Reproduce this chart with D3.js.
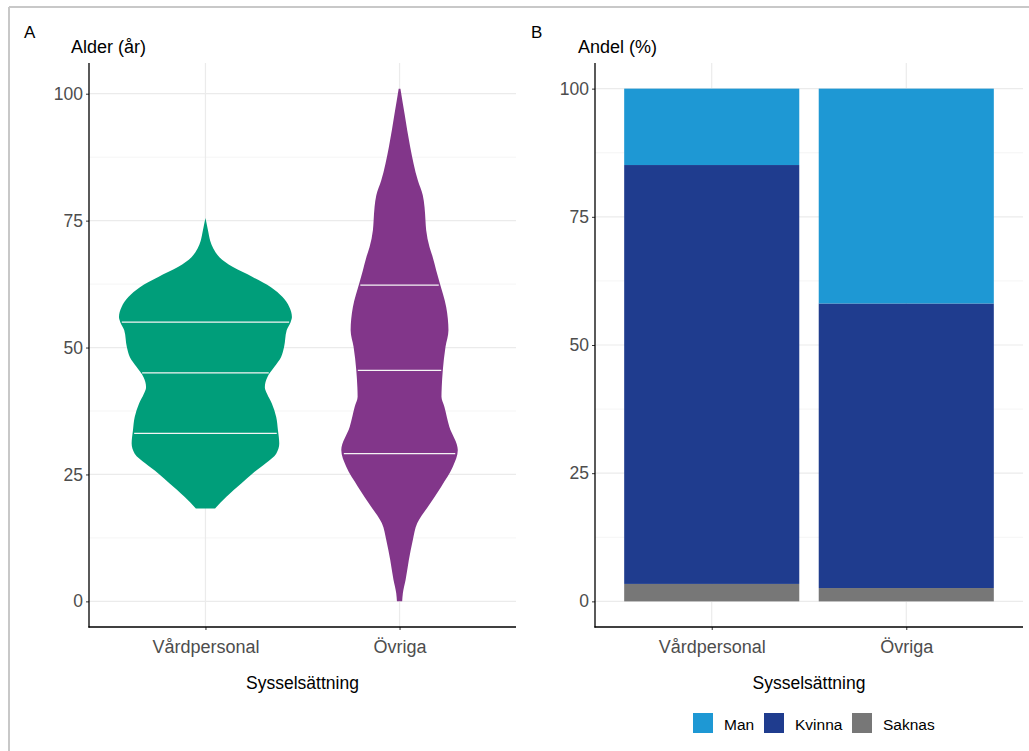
<!DOCTYPE html>
<html>
<head>
<meta charset="utf-8">
<script src="https://cdn.jsdelivr.net/npm/d3@7"></script>
<style>
  html, body { margin: 0; padding: 0; background: #fff; }
  svg { display: block; font-family: "Liberation Sans", Arial, sans-serif; }
</style>
</head>
<body>
<svg id="chart" width="1029" height="751"></svg>
<script>
// Employment groups shared by both panels
const categories = ["Vårdpersonal", "Övriga"];

// Panel A: age distribution (violin outline as relative density per age)
const ageGridVard = [18.3, 20.6, 23.2, 25.2, 27.2, 29.1, 31.1, 33.7, 36.3, 39.0, 40.9, 42.2, 44.2, 46.2, 48.1, 50.1, 53.4, 55.0, 56.0, 58.0, 60.0, 61.9, 63.9, 65.9, 67.8, 69.5, 71.0, 73.0, 75.5];
const densityVard = [0.11, 0.24, 0.41, 0.54, 0.69, 0.81, 0.845, 0.83, 0.81, 0.76, 0.705, 0.68, 0.71, 0.79, 0.865, 0.90, 0.93, 0.975, 0.99, 0.96, 0.88, 0.75, 0.54, 0.31, 0.16, 0.09, 0.055, 0.03, 0.0];
const ageGridOvriga = [0.0, 1.6, 4.2, 8.1, 12.1, 15.4, 18.6, 22.6, 26.5, 29.8, 34.4, 38.3, 40.3, 42.2, 45.5, 50.1, 53.4, 58.0, 62.9, 65.2, 67.8, 69.8, 73.1, 75.0, 77.7, 80.0, 82.9, 89.5, 96.1, 101.0];
const densityOvriga = [0.03, 0.038, 0.069, 0.106, 0.152, 0.202, 0.323, 0.477, 0.61, 0.667, 0.57, 0.514, 0.48, 0.483, 0.495, 0.526, 0.56, 0.534, 0.457, 0.42, 0.38, 0.343, 0.305, 0.297, 0.286, 0.266, 0.21, 0.122, 0.057, 0.01];
const quantilesVard = [33.1, 45.0, 55.0];
const quantilesOvriga = [29.1, 45.5, 62.3];
const ageTicks = [0, 25, 50, 75, 100];

// Panel B: sex composition (%)
const sexLevels = ["Man", "Kvinna", "Saknas"];
const manPct = [14.9, 41.9];
const kvinnaPct = [81.7, 55.5];
const saknasPct = [3.4, 2.6];
const pctTicks = [0, 25, 50, 75, 100];

const violinColors = ["#009E7A", "#82368A"];
const sexColors = { Man: "#1E98D4", Kvinna: "#1F3C8E", Saknas: "#777777" };

const svg = d3.select("#chart");
const textGrey = "#4d4d4d";
const gridMajor = "#ebebeb";
const gridMinor = "#f3f3f3";

// Figure frame
svg.append("line").attr("x1", 9).attr("x2", 1029).attr("y1", 7).attr("y2", 7)
  .attr("stroke", "#c8c8c8").attr("stroke-width", 2);
svg.append("line").attr("x1", 9).attr("x2", 9).attr("y1", 7).attr("y2", 751)
  .attr("stroke", "#c8c8c8").attr("stroke-width", 2);

function drawFrame(g, x, y, ticks, minorTicks, x0, x1, y0, y1, tag, yTitle, tagX, titleX) {
  // grid
  g.selectAll(".gmin").data(minorTicks).join("line")
    .attr("x1", x0).attr("x2", x1).attr("y1", d => y(d)).attr("y2", d => y(d))
    .attr("stroke", gridMinor).attr("stroke-width", 0.8);
  g.selectAll(".gmaj").data(ticks).join("line")
    .attr("x1", x0).attr("x2", x1).attr("y1", d => y(d)).attr("y2", d => y(d))
    .attr("stroke", gridMajor).attr("stroke-width", 1.2);
  g.selectAll(".gx").data(categories).join("line")
    .attr("x1", d => x(d)).attr("x2", d => x(d)).attr("y1", y0).attr("y2", y1)
    .attr("stroke", gridMajor).attr("stroke-width", 1.2);

  svg.append("text").attr("x", tagX).attr("y", 37.5).attr("font-size", 17)
    .attr("fill", "#000").text(tag);
  svg.append("text").attr("x", titleX).attr("y", 53).attr("font-size", 18)
    .attr("fill", "#000").text(yTitle);
}

function drawAxes(g, x, y, ticks, x0, x1, y0, y1) {
  const yAxis = d3.axisLeft(y).tickValues(ticks).tickSize(3).tickPadding(3);
  const ya = g.append("g").attr("transform", `translate(${x0},0)`).call(yAxis);
  ya.select(".domain").remove();
  ya.selectAll(".tick line").attr("stroke", "#333").attr("stroke-width", 1);
  ya.selectAll(".tick text").attr("fill", textGrey).attr("font-size", 17.5)
    .attr("font-family", "Liberation Sans, Arial, sans-serif");

  const xAxis = d3.axisBottom(x).tickSize(3).tickPadding(10);
  const xa = g.append("g").attr("transform", `translate(0,${y1})`).call(xAxis);
  xa.select(".domain").remove();
  xa.selectAll(".tick line").attr("stroke", "#333").attr("stroke-width", 1);
  xa.selectAll(".tick text").attr("fill", textGrey).attr("font-size", 18)
    .attr("font-family", "Liberation Sans, Arial, sans-serif");

  g.append("line").attr("x1", x0).attr("x2", x0).attr("y1", y0).attr("y2", y1 + 0.6)
    .attr("stroke", "#000").attr("stroke-width", 1.3);
  g.append("line").attr("x1", x0 - 0.6).attr("x2", x1).attr("y1", y1).attr("y2", y1)
    .attr("stroke", "#000").attr("stroke-width", 1.3);

  g.append("text").attr("x", (x0 + x1) / 2).attr("y", 688.5).attr("text-anchor", "middle")
    .attr("font-size", 17.5).attr("fill", "#000").text("Sysselsättning");
}

// ---------- Panel A: violins ----------
{
  const x0 = 89, x1 = 516, y0 = 63, y1 = 627;
  const g = svg.append("g");
  const x = d3.scalePoint().domain(categories).range([x0, x1]).padding(0.6);
  const y = d3.scaleLinear().domain([-5.05, 106.05]).range([y1, y0]);
  drawFrame(g, x, y, ageTicks, [12.5, 37.5, 62.5, 87.5], x0, x1, y0, y1, "A", "Alder (år)", 24, 71);

  const halfMax = 0.45 * x.step();
  const groups = [
    { cat: categories[0], ages: ageGridVard, dens: densityVard, q: quantilesVard, color: violinColors[0] },
    { cat: categories[1], ages: ageGridOvriga, dens: densityOvriga, q: quantilesOvriga, color: violinColors[1] }
  ];
  groups.forEach(grp => {
    const cx = x(grp.cat);
    const w = d3.scaleLinear().domain([0, 1]).range([0, halfMax]);
    const pts = grp.ages.map((a, i) => ({ a, d: grp.dens[i] }));
    const area = d3.area()
      .y(p => y(p.a))
      .x0(p => cx - w(p.d))
      .x1(p => cx + w(p.d))
      .curve(d3.curveMonotoneY);
    g.append("path").datum(pts).attr("d", area).attr("fill", grp.color);

    const interp = d3.scaleLinear().domain(grp.ages).range(grp.dens);
    g.selectAll(null).data(grp.q).join("line")
      .attr("x1", q => cx - w(interp(q)) + 1.5)
      .attr("x2", q => cx + w(interp(q)) - 1.5)
      .attr("y1", q => y(q)).attr("y2", q => y(q))
      .attr("stroke", "#f4f4f4").attr("stroke-width", 1.4);
  });
  drawAxes(g, x, y, ageTicks, x0, x1, y0, y1);
}

// ---------- Panel B: stacked bars ----------
{
  const x0 = 595, x1 = 1023, y0 = 63, y1 = 627;
  const g = svg.append("g");
  const x = d3.scalePoint().domain(categories).range([x0, x1]).padding(0.6);
  const y = d3.scaleLinear().domain([-5, 105]).range([y1, y0]);
  drawFrame(g, x, y, pctTicks, [12.5, 37.5, 62.5, 87.5], x0, x1, y0, y1, "B", "Andel (%)", 531, 578);

  const rows = categories.map((c, i) => ({ cat: c, Man: manPct[i], Kvinna: kvinnaPct[i], Saknas: saknasPct[i] }));
  const stack = d3.stack().keys(["Saknas", "Kvinna", "Man"]);
  const series = stack(rows);
  const bw = 0.9 * x.step();
  series.forEach(s => {
    g.selectAll(null).data(s).join("rect")
      .attr("x", d => x(d.data.cat) - bw / 2)
      .attr("width", bw)
      .attr("y", d => y(d[1]))
      .attr("height", d => y(d[0]) - y(d[1]))
      .attr("fill", sexColors[s.key]);
  });
  drawAxes(g, x, y, pctTicks, x0, x1, y0, y1);

  // legend
  const legendX = [693, 764, 852];
  const lg = svg.append("g");
  sexLevels.forEach((k, i) => {
    lg.append("rect").attr("x", legendX[i]).attr("y", 713).attr("width", 20).attr("height", 20)
      .attr("fill", sexColors[k]);
    lg.append("text").attr("x", legendX[i] + 31).attr("y", 729.5).attr("font-size", 15.5)
      .attr("fill", "#000").text(k);
  });
}
</script>
</body>
</html>
